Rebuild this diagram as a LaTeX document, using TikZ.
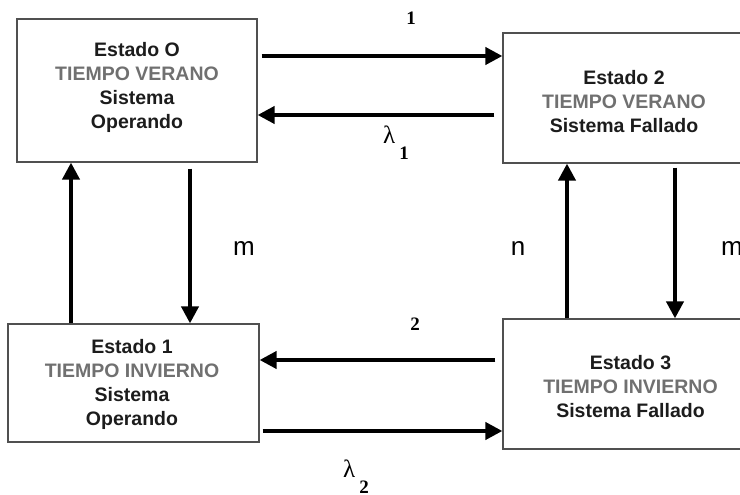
\documentclass[tikz,border=0pt]{standalone}
\usepackage{fontspec}
\setmainfont{Liberation Sans}
\newfontfamily\serffont{Liberation Serif}
\usetikzlibrary{arrows.meta,calc}
\definecolor{txtgray}{RGB}{112,112,112}
\definecolor{txtblack}{RGB}{28,28,28}
\definecolor{boxline}{RGB}{80,80,80}
\tikzset{
  statebox/.style={draw=boxline,line width=1.2pt,minimum width=#1,inner sep=0pt},
  boxtext/.style={align=center,inner sep=0pt,text=txtblack,
    font=\bfseries\fontsize{19.5}{24}\selectfont},
  arr/.style={line width=4pt,-{Triangle[length=17pt,width=17pt]}},
  digitlbl/.style={inner sep=0pt,font=\serffont\bfseries\fontsize{19}{19}\selectfont},
  ratelbl/.style={inner sep=0pt,font=\fontsize{26}{26}\selectfont},
  lamlbl/.style={inner sep=0pt,anchor=base west,font=\serffont\fontsize{25}{25}\selectfont}
}
\newcommand{\gr}[1]{\textcolor{txtgray}{#1}}
\newcommand{\lamsub}[1]{λ\hspace{4pt}\raisebox{-16pt}{\bfseries\fontsize{19}{19}\selectfont #1}}
\begin{document}
\begin{tikzpicture}[x=1pt,y=-1pt]
\clip (0,0) rectangle (740,495);
% boxes
\node[statebox=240pt,minimum height=143pt] (s0) at (137,90.5) {};
\node[statebox=242pt,minimum height=130pt] (s2) at (624,98) {};
\node[statebox=251pt,minimum height=118pt] (s1) at (133.5,383) {};
\node[statebox=255pt,minimum height=130pt] (s3) at (630.5,384) {};
% texts
\node[boxtext] (t0) at (137,87) {Estado O\\\gr{TIEMPO VERANO}\\Sistema\\Operando};
\node[boxtext] (t2) at (624,102) {Estado 2\\\gr{TIEMPO VERANO}\\Sistema Fallado};
\node[boxtext] (t1) at (132,384) {Estado 1\\\gr{TIEMPO INVIERNO}\\Sistema\\Operando};
\node[boxtext] (t3) at (630.5,387) {Estado 3\\\gr{TIEMPO INVIERNO}\\Sistema Fallado};
% horizontal connectors
\draw[arr] ([shift={(4,-34.5)}]s0.east) coordinate (a1) -- (a1 -| s2.west);
\draw[arr] ([shift={(-8,17)}]s2.west) coordinate (a2) -- (a2 -| s0.east);
\draw[arr] ([shift={(-7,-24)}]s3.west) coordinate (a3) -- (a3 -| s1.east);
\draw[arr] ([shift={(3,48)}]s1.east) coordinate (a4) -- (a4 -| s3.west);
% vertical connectors
\draw[arr] ([xshift=-62.5]s1.north) coordinate (v1) -- (v1 |- s0.south);
\draw[arr] ([shift={(53,6)}]s0.south) coordinate (v2) -- (v2 |- s1.north);
\draw[arr] ([xshift=-63.5]s3.north) coordinate (v3) -- (v3 |- s2.south);
\draw[arr] ([shift={(51,4)}]s2.south) coordinate (v4) -- (v4 |- s3.north);
% labels
\node[digitlbl,anchor=base] (l1) at (411,25) {1};
\node[digitlbl,anchor=base] (l2) at (415,330) {2};
\node[lamlbl] (lam1) at (383,143) {\lamsub{1}};
\node[lamlbl] (lam2) at (343,477) {\lamsub{2}};
\node[ratelbl,anchor=base] (m1) at (244,255) {m};
\node[ratelbl,anchor=base] (n1) at (518,255) {n};
\node[ratelbl,anchor=base west] (m2) at (721,255) {m};
\end{tikzpicture}
\end{document}
